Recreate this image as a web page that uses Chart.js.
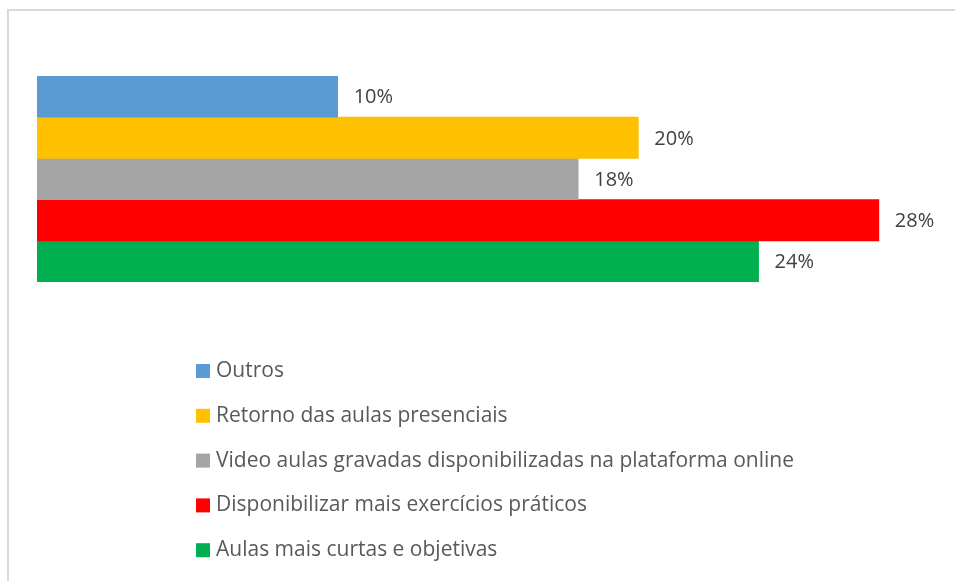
<!DOCTYPE html>
<html>
<head>
<meta charset="utf-8">
<script src="https://cdn.jsdelivr.net/npm/chart.js@4"></script>
<style>
html,body{margin:0;padding:0;background:#fff;}
#wrap{position:relative;width:955px;height:581px;}
</style>
</head>
<body>
<div id="wrap"><canvas id="c" width="955" height="581"></canvas></div>
<script>
const categories = [''];
const seriesNames = [
  'Outros',
  'Retorno das aulas presenciais',
  'Video aulas gravadas disponibilizadas na plataforma online',
  'Disponibilizar mais exercícios práticos',
  'Aulas mais curtas e objetivas'
];
const seriesValues = [10, 20, 18, 28, 24];
const seriesColors = ['#5B9BD5', '#FFC000', '#A5A5A5', '#FF0000', '#00B050'];

const FONT = '"Open Sans", "Liberation Sans", sans-serif';

const bgPlugin = {
  id: 'bg',
  beforeDraw(chart) {
    const ctx = chart.ctx;
    ctx.save();
    ctx.fillStyle = '#fff';
    ctx.fillRect(0, 0, chart.width, chart.height);
    ctx.strokeStyle = '#D9D9D9';
    ctx.lineWidth = 2;
    ctx.strokeRect(8, 10, 1200, 1200);
    ctx.restore();
  }
};

const labelPlugin = {
  id: 'vlabels',
  afterDatasetsDraw(chart) {
    const ctx = chart.ctx;
    ctx.save();
    ctx.font = '20px ' + FONT;
    ctx.fillStyle = '#404040';
    ctx.textAlign = 'left';
    ctx.textBaseline = 'middle';
    chart.data.datasets.forEach((ds, i) => {
      const meta = chart.getDatasetMeta(i);
      meta.data.forEach((bar, j) => {
        ctx.fillText(ds.data[j] + '%', bar.x + 16, bar.y + 1);
      });
    });
    ctx.restore();
  }
};

const legendPlugin = {
  id: 'vlegend',
  afterDraw(chart) {
    const ctx = chart.ctx;
    ctx.save();
    ctx.font = '21px ' + FONT;
    ctx.textAlign = 'left';
    ctx.textBaseline = 'middle';
    const x0 = 196, y0 = 371, step = 44.8;
    chart.data.datasets.forEach((ds, i) => {
      const y = y0 + i * step;
      ctx.fillStyle = ds.backgroundColor;
      ctx.fillRect(x0, y - 7, 14, 14);
      ctx.fillStyle = '#595959';
      ctx.fillText(ds.label, x0 + 20, y);
    });
    ctx.restore();
  }
};

new Chart(document.getElementById('c'), {
  type: 'bar',
  data: {
    labels: categories,
    datasets: seriesNames.map((n, i) => ({
      label: n,
      data: [seriesValues[i]],
      backgroundColor: seriesColors[i],
      borderWidth: 0,
      barPercentage: 1,
      categoryPercentage: 1
    }))
  },
  options: {
    indexAxis: 'y',
    responsive: false,
    animation: false,
    layout: { padding: { left: 37, right: 16, top: 76, bottom: 299 } },
    scales: {
      x: { display: false, min: 0, max: 30 },
      y: { display: false }
    },
    plugins: {
      legend: { display: false },
      tooltip: { enabled: false }
    }
  },
  plugins: [bgPlugin, labelPlugin, legendPlugin]
});
</script>
</body>
</html>
